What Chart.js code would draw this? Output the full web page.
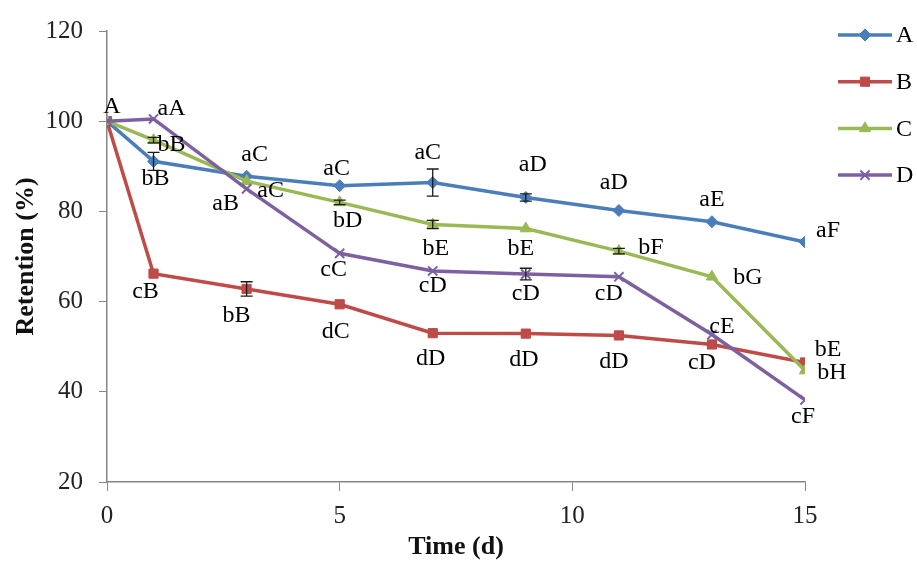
<!DOCTYPE html>
<html lang="en">
  <head>
    <meta charset="UTF-8" />
    <title>Retention (%) over time</title>
    <style>
      body {
        margin: 0;
        padding: 0;
        background: #fff;
      }
      #chart {
        display: block;
      }
    </style>
  </head>
  <body>
    <canvas id="chart" width="917" height="563"></canvas>
    <script src="https://cdn.jsdelivr.net/npm/chart.js@4.4.0/dist/chart.umd.min.js"></script>
    <script>
      // sampling days
      let days = [0, 1, 3, 5, 7, 9, 11, 13, 15];
      let seriesNames = ['A', 'B', 'C', 'D'];

      // retention (%)
      let retA = [100, 91.1, 87.8, 85.7, 86.4, 83.1, 80.2, 77.7, 73.2];
      let retB = [100, 66.2, 62.8, 59.4, 53.0, 52.9, 52.5, 50.5, 46.5];
      let retC = [100, 95.8, 86.7, 82.0, 77.1, 76.2, 71.2, 65.5, 44.7];
      let retD = [100, 100.5, 85.0, 70.7, 66.8, 66.1, 65.5, 52.7, 38.2];

      // error bar half-lengths (most are hidden under the markers)
      let errA = [0, 2.0, 0, 0, 3.0, 0.8, 0, 0, 0];
      let errB = [0, 0, 1.6, 0, 0, 0, 0, 0, 0];
      let errC = [0, 0.6, 0, 0.5, 0.9, 0, 0.6, 0, 0];
      let errD = [0, 0, 0, 0, 0, 1.3, 0, 0, 0];

      // significance letters
      let letA = ['A', 'bB', 'aC', 'aC', 'aC', 'aD', 'aD', 'aE', 'aF'];
      let letB = ['', 'cB', 'bB', 'dC', 'dD', 'dD', 'dD', 'cD', 'bE'];
      let letC = ['', 'bB', 'aC', 'bD', 'bE', 'bE', 'bF', 'bG', 'bH'];
      let letD = ['', 'aA', 'aB', 'cC', 'cD', 'cD', 'cD', 'cE', 'cF'];

      let xTicks = [0, 5, 10, 15];
      let yTicks = [20, 40, 60, 80, 100, 120];

      // where each letter sits relative to its point (px)
      const letterPos = [
        [[5, -14], [2, 17], [8, -22], [-3, -17], [-5, -30], [7, -33], [-5, -28], [0, -22], [23, -11]],
        [[0, 0], [-8, 18], [-10, 27], [-4, 27], [-2, 26], [-2, 26], [-5, 26], [-10, 18], [23, -13]],
        [[0, 0], [18, 5], [24, 10], [8, 18], [3, 24], [-5, 20], [32, -3], [36, 1], [27, 2]],
        [[0, 0], [18, -10], [-21, 15], [-6, 16], [0, 15], [0, 20], [-10, 17], [10, -8], [-2, 17]],
      ];

      const serif = "'Liberation Serif', 'Times New Roman', serif";
      const axisGray = '#868686';

      const colors = ['#4A7EBB', '#BE4B48', '#98B954', '#7D60A0'];
      const markers = ['rectRot', 'rect', 'triangle', 'crossRot'];
      const markerSize = [6, 6.5, 6.5, 6.5];

      const values = [retA, retB, retC, retD];
      const errors = [errA, errB, errC, errD];
      const letters = [letA, letB, letC, letD];

      const datasets = seriesNames.map((name, i) => ({
        label: name,
        data: days.map((d, j) => ({ x: d, y: values[i][j] })),
        borderColor: colors[i],
        backgroundColor: colors[i],
        pointBackgroundColor: colors[i],
        pointBorderColor: colors[i],
        pointStyle: markers[i],
        pointRadius: markerSize[i],
        pointBorderWidth: i == 3 ? 2 : 1,
        borderWidth: 3.5,
        tension: 0,
        order: 3 - i, // D on top, like the original
      }));

      const extras = {
        id: 'extras',
        afterDatasetsDraw(chart) {
          const ctx = chart.ctx;
          const xs = chart.scales.x;
          const ys = chart.scales.y;

          // error bars
          ctx.save();
          ctx.strokeStyle = '#1a1a1a';
          ctx.lineWidth = 1.3;
          errors.forEach((errs, i) => {
            errs.forEach((e, j) => {
              if (!e) return;
              const px = xs.getPixelForValue(days[j]);
              const y1 = ys.getPixelForValue(values[i][j] + e);
              const y2 = ys.getPixelForValue(values[i][j] - e);
              ctx.beginPath();
              ctx.moveTo(px, y1);
              ctx.lineTo(px, y2);
              ctx.moveTo(px - 6, y1);
              ctx.lineTo(px + 6, y1);
              ctx.moveTo(px - 6, y2);
              ctx.lineTo(px + 6, y2);
              ctx.stroke();
            });
          });
          ctx.restore();

          // letters
          ctx.save();
          ctx.font = '24px ' + serif;
          ctx.fillStyle = '#000';
          ctx.textAlign = 'center';
          ctx.textBaseline = 'middle';
          letters.forEach((lets, i) => {
            lets.forEach((t, j) => {
              if (!t) return;
              const px = xs.getPixelForValue(days[j]);
              const py = ys.getPixelForValue(values[i][j]);
              ctx.fillText(t, px + letterPos[i][j][0], py + letterPos[i][j][1]);
            });
          });
          ctx.restore();
        },
        afterDraw(chart) {
          // legend on the right, line + marker + name
          const ctx = chart.ctx;
          ctx.save();
          seriesNames.forEach((name, i) => {
            const cy = 35 + i * 46.7;
            ctx.strokeStyle = colors[i];
            ctx.fillStyle = colors[i];
            ctx.lineWidth = 3.5;
            ctx.beginPath();
            ctx.moveTo(838, cy);
            ctx.lineTo(892, cy);
            ctx.stroke();
            ctx.lineWidth = i == 3 ? 2 : 1;
            Chart.helpers.drawPoint(
              ctx,
              { pointStyle: markers[i], radius: markerSize[i], rotation: 0, borderWidth: ctx.lineWidth },
              865,
              cy
            );
            ctx.fillStyle = '#000';
            ctx.font = '24px ' + serif;
            ctx.textAlign = 'left';
            ctx.textBaseline = 'middle';
            ctx.fillText(name, 896, cy + 1);
          });
          ctx.restore();
        },
      };

      let chart = new Chart(document.getElementById('chart'), {
        type: 'line',
        data: { datasets: datasets },
        options: {
          responsive: false,
          animation: false,
          devicePixelRatio: 1,
          layout: { padding: { left: 0, right: 112, top: 22, bottom: 0 } },
          plugins: {
            legend: { display: false },
            tooltip: { enabled: false },
          },
          scales: {
            x: {
              type: 'linear',
              min: 0,
              max: 15,
              afterBuildTicks: (s) => {
                s.ticks = xTicks.map((v) => ({ value: v }));
              },
              afterFit: (s) => {
                s.height = 81;
              },
              grid: { drawOnChartArea: false, drawTicks: true, tickLength: 9, color: axisGray },
              border: { color: axisGray, width: 1.5 },
              ticks: { color: '#222', padding: 10, maxRotation: 0, font: { family: serif, size: 25 } },
              title: {
                display: true,
                text: 'Time (d)',
                color: '#111',
                padding: { top: 0, bottom: 0 },
                font: { family: serif, size: 26, weight: 'bold' },
              },
            },
            y: {
              min: 20,
              max: 120,
              afterBuildTicks: (s) => {
                s.ticks = yTicks.map((v) => ({ value: v }));
              },
              afterFit: (s) => {
                s.width = 107;
              },
              grid: { drawOnChartArea: false, drawTicks: true, tickLength: 8, color: axisGray },
              border: { color: axisGray, width: 1.5 },
              ticks: { color: '#222', padding: 16, font: { family: serif, size: 25 } },
              title: {
                display: true,
                text: 'Retention (%)',
                color: '#111',
                padding: { top: 11, bottom: 0 },
                font: { family: serif, size: 26, weight: 'bold' },
              },
            },
          },
        },
        plugins: [extras],
      });
    </script>
  </body>
</html>
